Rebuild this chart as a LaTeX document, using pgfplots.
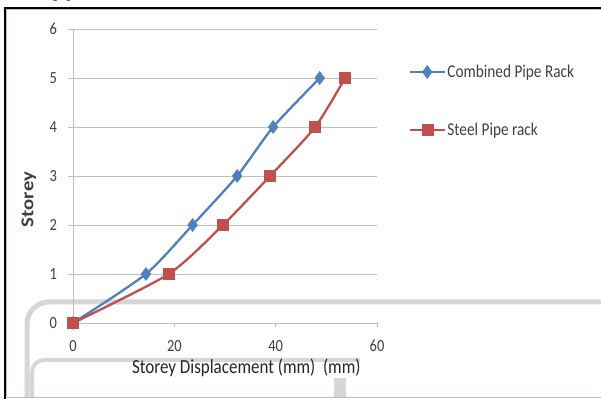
\documentclass[border=0pt]{standalone}
\usepackage{fontspec}
\setmainfont{Carlito}[FakeStretch=0.85]
\newfontfamily\ylabfont{Carlito}[FakeStretch=1.15]
\newfontfamily\serif{Liberation Serif}
\usepackage{pgfplots}
\pgfplotsset{compat=1.18}
\definecolor{xlblue}{HTML}{4F81BD}
\definecolor{xlred}{HTML}{C0504D}
\definecolor{gridgray}{HTML}{BFBFBF}
\definecolor{txtgray}{HTML}{404040}
\definecolor{band}{HTML}{D6D6D6}
\begin{document}
\begin{tikzpicture}[x=1pt,y=1pt]
\useasboundingbox (0,0) rectangle (601,398);
\fill[white] (0,0) rectangle (601,398);
% scan artefact bands
\draw[band,line width=5pt,rounded corners=22pt] (27,0) -- (27,96) -- (610,96);
\draw[band,line width=4pt,rounded corners=12pt] (32,0) -- (32,38) -- (360,38);
\draw[band,line width=12pt] (340,0) -- (340,20);
% frame
\draw[black,line width=2pt] (5,-2) -- (5,390) -- (605,390);
\draw[xlblue!50,line width=0.8pt] (6.5,1) -- (6.5,388.5) -- (605,388.5);
\draw[xlblue!50,line width=0.8pt] (6.5,1) -- (605,1);
\node[anchor=base west,font=\fontsize{17}{17}\selectfont\serif,inner sep=0pt] at (53,400) {pipe};
\begin{axis}[
  at={(73pt,75pt)}, anchor=south west,
  scale only axis, width=304pt, height=294pt,
  xmin=0, xmax=60, ymin=0, ymax=6,
  xtick={0,20,40,60}, ytick={0,1,2,3,4,5,6},
  axis x line*=bottom, axis y line*=left,
  axis line style={gridgray,line width=0.8pt},
  every tick/.style={gridgray,line width=0.8pt},
  tick align=outside, major tick length=4.5pt,
  ymajorgrids, grid style={gridgray,line width=0.9pt},
  ticklabel style={font=\fontsize{17}{17}\selectfont, text=txtgray},
  yticklabel style={xshift=-8pt},
  xticklabel style={yshift=-9pt},
  /pgf/number format/assume math mode=true,
  xlabel={Storey Displacement (mm)\ \ (mm)},
  xlabel style={font=\fontsize{20}{20}\selectfont, text=black!85, at={(axis description cs:0.57,-0.152)}, anchor=center},
  ylabel={\bfseries Storey},
  ylabel style={font=\fontsize{18}{18}\selectfont\ylabfont, text=txtgray, at={(axis description cs:-0.145,0.42)}, anchor=center},
  clip=false,
  legend style={at={(1.105,0.885)}, anchor=north west, draw=none, fill=none,
    font=\fontsize{18}{18}\selectfont, text=txtgray, row sep=40pt,
    legend cell align=left, inner sep=0pt},
  legend image code/.code={\draw[mark repeat=2,mark phase=2] plot coordinates {(0pt,0pt) (17pt,0pt) (34pt,0pt)};},
]
\addplot[xlblue, line width=2.3pt, smooth, tension=0.4, mark=diamond*, mark size=6.5pt, mark options={solid,line width=0.5pt,fill=xlblue}]
  coordinates {(0,0) (14.4,1) (23.6,2) (32.4,3) (39.5,4) (48.7,5)};
\addlegendentry{Combined Pipe Rack}
\addplot[xlred, line width=2.3pt, smooth, tension=0.4, mark=square*, mark size=5.5pt, mark options={solid,line width=0.5pt,fill=xlred}]
  coordinates {(0,0) (18.9,1) (29.6,2) (38.9,3) (47.8,4) (53.7,5)};
\addlegendentry{Steel Pipe rack}
\end{axis}
\end{tikzpicture}
\end{document}
